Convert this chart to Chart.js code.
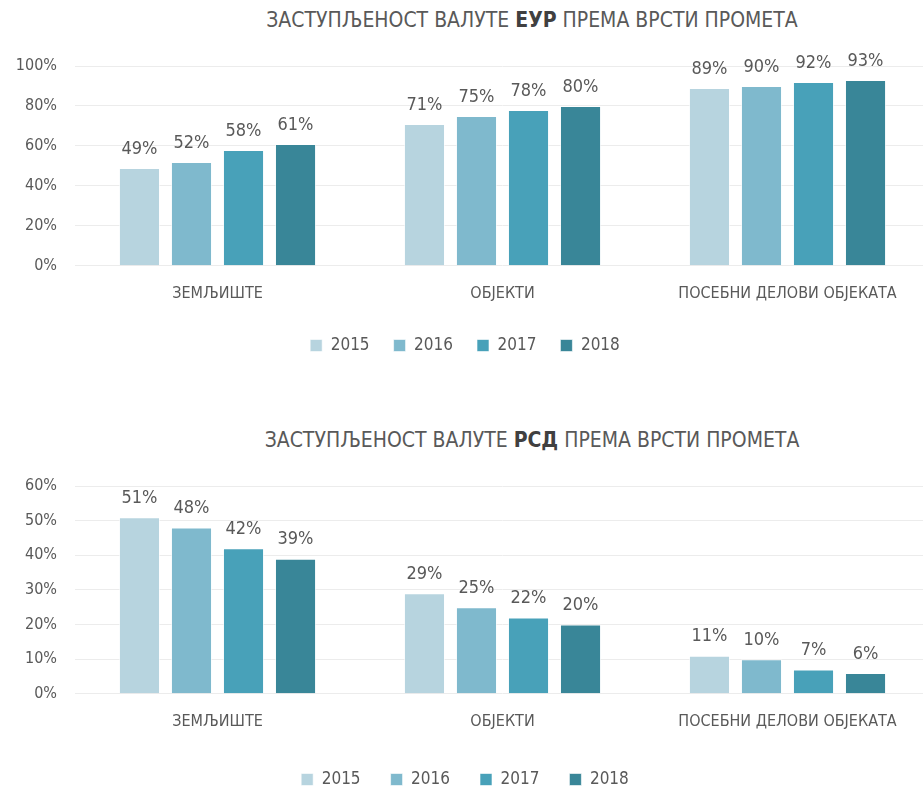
<!DOCTYPE html>
<html lang="sr">
<head>
  <meta charset="UTF-8" />
  <title>Заступљеност валуте према врсти промета</title>
  <script src="https://cdn.jsdelivr.net/npm/chart.js"></script>
  <style>
    body {
      margin: 0;
      width: 923px;
      height: 789px;
      overflow: hidden;
      background: #fff;
      font-family: 'Liberation Sans Narrow', 'DejaVu Sans Condensed', sans-serif;
      color: #595959;
      position: relative;
    }
    .title {
      position: absolute;
      left: 0;
      width: 1064px;
      text-align: center;
      font-size: 21px;
      color: #595959;
      white-space: nowrap;
    }
    .title b { color: #404040; }
    .box {
      position: absolute;
      left: 0;
      width: 930px;
    }
  </style>
</head>
<body>
  <div class="title" style="top:8px">ЗАСТУПЉЕНОСТ ВАЛУТЕ <b>ЕУР</b> ПРЕМА ВРСТИ ПРОМЕТА</div>
  <div class="box" style="top:0;height:364px"><canvas id="eur"></canvas></div>
  <div class="title" style="top:428px">ЗАСТУПЉЕНОСТ ВАЛУТЕ <b>РСД</b> ПРЕМА ВРСТИ ПРОМЕТА</div>
  <div class="box" style="top:420px;height:378px"><canvas id="rsd"></canvas></div>
  <script>
    const categories = ["ЗЕМЉИШТЕ", "ОБЈЕКТИ", "ПОСЕБНИ ДЕЛОВИ ОБЈЕКАТА"];
    const years = ["2015", "2016", "2017", "2018"];
    const colors = ["#b7d4df", "#7fb9cd", "#48a1b9", "#398698"];

    // ЕУР, по годинама
    const eur2015 = [49, 71, 89];
    const eur2016 = [52, 75, 90];
    const eur2017 = [58, 78, 92];
    const eur2018 = [61, 80, 93];

    // РСД, по годинама
    const rsd2015 = [51, 29, 11];
    const rsd2016 = [48, 25, 10];
    const rsd2017 = [42, 22, 7];
    const rsd2018 = [39, 20, 6];

    const font = "'Liberation Sans Narrow', 'DejaVu Sans Condensed', sans-serif";

    // подписи вредности изнад стубаца
    const valueLabels = {
      id: "valueLabels",
      afterDatasetsDraw(chart) {
        const ctx = chart.ctx;
        ctx.save();
        ctx.font = "18px " + font;
        ctx.fillStyle = "#595959";
        ctx.textAlign = "center";
        ctx.textBaseline = "bottom";
        chart.data.datasets.forEach((ds, i) => {
          chart.getDatasetMeta(i).data.forEach((bar, j) => {
            ctx.fillText(ds.data[j] + "%", bar.x, bar.y - 10);
          });
        });
        ctx.restore();
      }
    };

    function makeChart(id, series, max, step, legendPad) {
      new Chart(document.getElementById(id), {
        type: "bar",
        data: {
          labels: categories,
          datasets: series.map((d, i) => ({
            label: years[i],
            data: d,
            backgroundColor: colors[i],
            borderColor: "rgba(255,255,255,0.6)",
            borderWidth: 1,
            categoryPercentage: 0.73,
            barPercentage: 0.79
          }))
        },
        options: {
          responsive: true,
          maintainAspectRatio: false,
          animation: false,
          layout: { padding: { top: 66, right: 0, bottom: 0 } },
          plugins: {
            title: { display: false },
            tooltip: { enabled: false },
            legend: {
              position: "bottom",
              labels: {
                boxWidth: 12,
                boxHeight: 12,
                padding: legendPad,
                color: "#595959",
                font: { family: font, size: 17 }
              }
            }
          },
          scales: {
            x: {
              grid: { display: false },
              border: { display: false },
              ticks: {
                color: "#595959",
                padding: 10,
                maxRotation: 0,
                font: { family: font, size: 16 }
              }
            },
            y: {
              min: 0,
              max: max,
              afterFit: s => { s.width = 75; },
              grid: { color: "#ececec", drawTicks: false },
              border: { display: false },
              ticks: {
                stepSize: step,
                padding: 18,
                color: "#595959",
                font: { family: font, size: 16 },
                callback: v => v + "%"
              }
            }
          }
        },
        plugins: [valueLabels]
      });
    }

    makeChart("eur", [eur2015, eur2016, eur2017, eur2018], 100, 20, 24);
    makeChart("rsd", [rsd2015, rsd2016, rsd2017, rsd2018], 60, 10, 30);
  </script>
</body>
</html>
